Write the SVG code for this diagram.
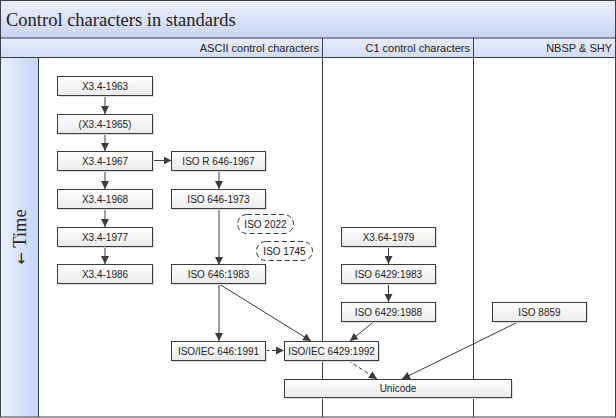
<svg xmlns="http://www.w3.org/2000/svg" width="616" height="418" viewBox="0 0 616 418">
<defs>
<linearGradient id="gTitle" x1="0" y1="0" x2="0" y2="1"><stop offset="0" stop-color="#eef0fb"/><stop offset="1" stop-color="#c9d4f4"/></linearGradient>
<linearGradient id="gHead" x1="0" y1="0" x2="0" y2="1"><stop offset="0" stop-color="#e8ecfa"/><stop offset="1" stop-color="#d3dcf6"/></linearGradient>
<linearGradient id="gSide" x1="0" y1="0" x2="1" y2="0"><stop offset="0" stop-color="#edf1fc"/><stop offset="1" stop-color="#c6d4f6"/></linearGradient>
<linearGradient id="gNode" x1="0" y1="0" x2="0" y2="1"><stop offset="0" stop-color="#ffffff"/><stop offset="1" stop-color="#eaeaea"/></linearGradient>
<marker id="ah" viewBox="0 0 10 10" refX="10" refY="5" markerWidth="8" markerHeight="8" markerUnits="userSpaceOnUse" orient="auto"><path d="M0,0 L10,5 L0,10 z" fill="#3c3c3c"/></marker>
</defs>
<style>
.frame{fill:none;stroke:#3a3f4a;stroke-width:1}
.lane{stroke:#3a3f4a;stroke-width:1}
.box{fill:url(#gNode);stroke:#3c3c3c;stroke-width:1}
.shadow{fill:#dddddd}
.pill{fill:#fbfbfb;stroke:#3c3c3c;stroke-width:1;stroke-dasharray:5,3}
.lbl{font-family:"Liberation Sans",Arial,sans-serif;font-size:10px;fill:#222;text-anchor:middle}
.hdr{font-family:"Liberation Sans",Arial,sans-serif;font-size:11px;fill:#222;text-anchor:end}
.title{font-family:"Liberation Serif","Times New Roman",serif;font-size:18.5px;fill:#222}
.edge{fill:none;stroke:#3c3c3c;stroke-width:1;marker-end:url(#ah)}
.dash{stroke-dasharray:4,2.5}
</style>
<rect x="0" y="0" width="616" height="418" fill="#ffffff"/>
<rect x="0.5" y="0.5" width="615" height="37.5" fill="url(#gTitle)"/>
<rect x="0.5" y="38" width="615" height="19.5" fill="url(#gHead)"/>
<rect x="0.5" y="57.5" width="37.5" height="359.5" fill="url(#gSide)"/>
<line class="lane" x1="0" y1="38" x2="616" y2="38"/>
<line class="lane" x1="0" y1="57.5" x2="616" y2="57.5"/>
<line class="lane" x1="38.5" y1="57.5" x2="38.5" y2="417"/>
<line class="lane" x1="322.5" y1="38" x2="322.5" y2="417"/>
<line class="lane" x1="473.5" y1="38" x2="473.5" y2="417"/>
<rect class="frame" x="0.5" y="0.5" width="615" height="416.5"/>
<text class="title" x="6" y="26">Control characters in standards</text>
<text class="hdr" x="319" y="51.5">ASCII control characters</text>
<text class="hdr" x="470" y="51.5">C1 control characters</text>
<text class="hdr" x="612" y="51.5">NBSP &amp; SHY</text>
<text class="title" font-size="17" text-anchor="middle" transform="translate(26,237) rotate(-90)"><tspan font-family="DejaVu Sans, sans-serif" font-size="15">←</tspan> Time</text>

<g id="connectors">
<line class="edge" x1="105" y1="95.5" x2="105" y2="114"/>
<line class="edge" x1="105" y1="133.5" x2="105" y2="151"/>
<line class="edge" x1="105" y1="170.5" x2="105" y2="189"/>
<line class="edge" x1="105" y1="208.5" x2="105" y2="227"/>
<line class="edge" x1="105" y1="246.5" x2="105" y2="264"/>
<line class="edge" x1="153" y1="160.5" x2="171.5" y2="160.5"/>
<line class="edge" x1="219" y1="170.5" x2="219" y2="189"/>
<line class="edge" x1="219" y1="208.5" x2="219" y2="265"/>
<line class="edge" x1="219" y1="284.5" x2="219" y2="341"/>
<line class="edge" x1="220" y1="284.5" x2="311" y2="341"/>
<line class="edge dash" x1="265.5" y1="350.5" x2="284" y2="350.5"/>
<line class="edge" x1="388.5" y1="246.5" x2="388.5" y2="264"/>
<line class="edge" x1="388.5" y1="284" x2="388.5" y2="302"/>
<line class="edge" x1="374" y1="321.5" x2="350" y2="341"/>
<line class="edge dash" x1="348" y1="360.5" x2="377" y2="379"/>
<line class="edge" x1="519" y1="321.5" x2="402" y2="379"/>
</g>

<g id="n-x34-1963"><rect class="shadow" x="59" y="78" width="95" height="19"/><rect class="box" x="57.5" y="76.5" width="95" height="19"/><text class="lbl" x="105" y="89.5">X3.4-1963</text></g>
<g id="n-x34-1965"><rect class="shadow" x="59" y="116" width="95" height="19"/><rect class="box" x="57.5" y="114.5" width="95" height="19"/><text class="lbl" x="105" y="127.5">(X3.4-1965)</text></g>
<g id="n-x34-1967"><rect class="shadow" x="59" y="153" width="95" height="19"/><rect class="box" x="57.5" y="151.5" width="95" height="19"/><text class="lbl" x="105" y="164.5">X3.4-1967</text></g>
<g id="n-x34-1968"><rect class="shadow" x="59" y="191" width="95" height="19"/><rect class="box" x="57.5" y="189.5" width="95" height="19"/><text class="lbl" x="105" y="202.5">X3.4-1968</text></g>
<g id="n-x34-1977"><rect class="shadow" x="59" y="229" width="95" height="19"/><rect class="box" x="57.5" y="227.5" width="95" height="19"/><text class="lbl" x="105" y="240.5">X3.4-1977</text></g>
<g id="n-x34-1986"><rect class="shadow" x="59" y="266" width="95" height="19"/><rect class="box" x="57.5" y="264.5" width="95" height="19"/><text class="lbl" x="105" y="277.5">X3.4-1986</text></g>

<g id="n-isor646-1967"><rect class="shadow" x="173" y="153" width="94" height="19"/><rect class="box" x="171.5" y="151.5" width="94" height="19"/><text class="lbl" x="218.5" y="164.5">ISO R 646-1967</text></g>
<g id="n-iso646-1973"><rect class="shadow" x="173" y="191" width="94" height="19"/><rect class="box" x="171.5" y="189.5" width="94" height="19"/><text class="lbl" x="218.5" y="202.5">ISO 646-1973</text></g>
<g id="n-iso2022"><rect class="pill" x="237.5" y="214.5" width="56" height="19" rx="9.5"/><text class="lbl" x="265.5" y="227.5">ISO 2022</text></g>
<g id="n-iso1745"><rect class="pill" x="256.5" y="241.5" width="56" height="19" rx="9.5"/><text class="lbl" x="284.5" y="254.5">ISO 1745</text></g>
<g id="n-iso646-1983"><rect class="shadow" x="173" y="266" width="94" height="19"/><rect class="box" x="171.5" y="264.5" width="94" height="19"/><text class="lbl" x="218.5" y="277.5">ISO 646:1983</text></g>
<g id="n-isoiec646-1991"><rect class="shadow" x="173" y="343" width="94" height="19"/><rect class="box" x="171.5" y="341.5" width="94" height="19"/><text class="lbl" x="218.5" y="354.5">ISO/IEC 646:1991</text></g>
<g id="n-isoiec6429-1992"><rect class="shadow" x="286" y="343" width="94" height="19"/><rect class="box" x="284.5" y="341.5" width="94" height="19"/><text class="lbl" x="331.5" y="354.5">ISO/IEC 6429:1992</text></g>
<g id="n-unicode"><rect class="shadow" x="286" y="381" width="227" height="18"/><rect class="box" x="284.5" y="379.5" width="227" height="18"/><text class="lbl" x="398" y="392">Unicode</text></g>

<g id="n-x364-1979"><rect class="shadow" x="343" y="229" width="94" height="19"/><rect class="box" x="341.5" y="227.5" width="94" height="19"/><text class="lbl" x="388.5" y="240.5">X3.64-1979</text></g>
<g id="n-iso6429-1983"><rect class="shadow" x="343" y="266" width="94" height="19"/><rect class="box" x="341.5" y="264.5" width="94" height="19"/><text class="lbl" x="388.5" y="277.5">ISO 6429:1983</text></g>
<g id="n-iso6429-1988"><rect class="shadow" x="343" y="304" width="94" height="19"/><rect class="box" x="341.5" y="302.5" width="94" height="19"/><text class="lbl" x="388.5" y="315.5">ISO 6429:1988</text></g>
<g id="n-iso8859"><rect class="shadow" x="494" y="304" width="94" height="19"/><rect class="box" x="492.5" y="302.5" width="94" height="19"/><text class="lbl" x="539.5" y="315.5">ISO 8859</text></g>
</svg>
